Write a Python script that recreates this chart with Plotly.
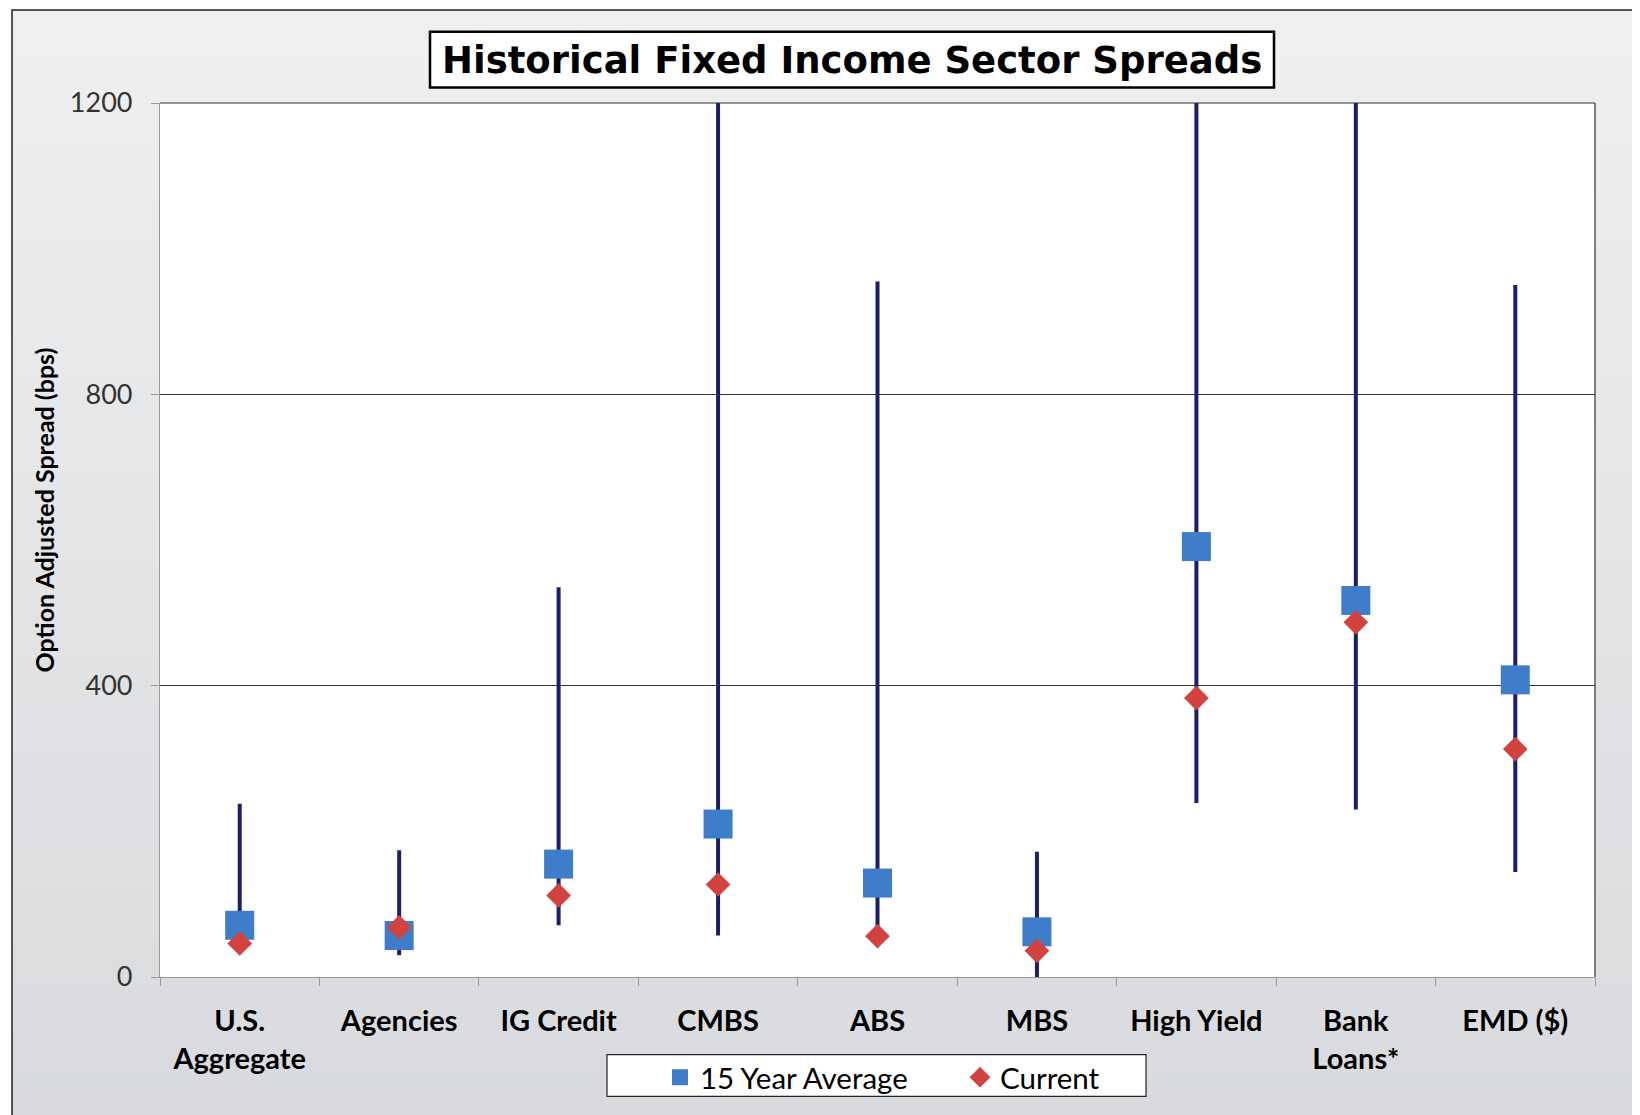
import plotly.graph_objects as go

# ---------------- data ----------------
sectors = ["U.S. Aggregate", "Agencies", "IG Credit", "CMBS", "ABS", "MBS",
           "High Yield", "Bank Loans*", "EMD ($)"]
sector_labels = ["U.S.<br>Aggregate", "Agencies", "IG Credit", "CMBS", "ABS", "MBS",
                 "High Yield", "Bank<br>Loans*", "EMD ($)"]
spread_max = [238, 174, 535, 1450, 955, 172, 1450, 1450, 950]
spread_min = [40, 30, 71, 57, 50, 0, 239, 230, 144]
avg_15yr = [71, 57, 155, 210, 129, 62, 591, 517, 408]
current = [46, 68, 112, 127, 56, 36, 383, 487, 313]
y_ticks = [0, 400, 800, 1200]

# ---------------- geometry (absolute page px; page body has 8px margin) ----------------
OFF = 8
W, H = 1632, 1107
P_LEFT, P_RIGHT, P_TOP, P_BOT = 160, 1595, 102.5, 981
L = P_LEFT - OFF
R = W - (P_RIGHT - OFF)
T = P_TOP - OFF
B = H - (P_BOT - OFF)
PW, PH = P_RIGHT - P_LEFT, P_BOT - P_TOP


def px_x(p):
    return (p - P_LEFT) / PW


def px_y(p):
    return (P_BOT - p) / PH


NAVY = "#1b1f6b"
BLUE = "#3f7dca"
RED = "#d2423f"

fig = go.Figure()

# range lines (min to max)
lx, ly = [], []
for s, lo, hi in zip(sectors, spread_min, spread_max):
    lx += [s, s, None]
    ly += [lo, hi, None]
fig.add_trace(go.Scatter(x=lx, y=ly, mode="lines", line=dict(color=NAVY, width=4),
                         showlegend=False, hoverinfo="skip"))

fig.add_trace(go.Scatter(x=sectors, y=avg_15yr, mode="markers", name="15 Year Average",
                         marker=dict(symbol="square", size=29, color=BLUE)))
fig.add_trace(go.Scatter(x=sectors, y=current, mode="markers", name="Current",
                         marker=dict(symbol="diamond", size=19, color=RED)))

shapes = []
# outer gradient background
top_px, bot_px, left_px, right_px = 9, 1130, 12, 1650
n = 24
c0 = (0xef, 0xef, 0xf0)
c1 = (0xd8, 0xda, 0xdd)
for i in range(n):
    f = i / (n - 1)
    col = "rgb(%d,%d,%d)" % tuple(round(a + (b - a) * f) for a, b in zip(c0, c1))
    y0 = top_px + (bot_px - top_px) * i / n
    y1 = top_px + (bot_px - top_px) * (i + 1) / n
    shapes.append(dict(type="rect", xref="paper", yref="paper", layer="below",
                       x0=px_x(left_px), x1=px_x(right_px), y0=px_y(y0), y1=px_y(y1 + 1),
                       fillcolor=col, line=dict(width=0)))
# outer border
shapes.append(dict(type="rect", xref="paper", yref="paper", layer="below",
                   x0=px_x(left_px), x1=px_x(right_px), y0=px_y(top_px), y1=px_y(bot_px),
                   line=dict(color="#222222", width=1.5), fillcolor="rgba(0,0,0,0)"))
# plot area white
shapes.append(dict(type="rect", xref="paper", yref="paper", layer="below",
                   x0=0, x1=1, y0=0, y1=1, fillcolor="white", line=dict(width=0)))
# top and right borders of plot
shapes.append(dict(type="line", xref="paper", yref="paper", x0=0, x1=1, y0=1, y1=1,
                   line=dict(color="#333333", width=1.2)))
shapes.append(dict(type="line", xref="paper", yref="paper", x0=1, x1=1, y0=0, y1=1,
                   line=dict(color="#333333", width=1.2)))
# title box
shapes.append(dict(type="rect", xref="paper", yref="paper",
                   x0=px_x(430), x1=px_x(1274), y0=px_y(31), y1=px_y(87),
                   fillcolor="white", line=dict(color="black", width=2.5)))
# legend box
shapes.append(dict(type="rect", xref="paper", yref="paper",
                   x0=px_x(607), x1=px_x(1146), y0=px_y(1059), y1=px_y(1101),
                   fillcolor="white", line=dict(color="#222222", width=1.2)))

annotations = [
    dict(text="<b>Historical Fixed Income Sector Spreads</b>", xref="paper", yref="paper",
         x=px_x(852), y=px_y(60), xanchor="center", yanchor="middle", showarrow=False,
         font=dict(family="DejaVu Sans", size=37, color="black")),
    dict(text="<b>Option Adjusted Spread (bps)</b>", xref="paper", yref="paper",
         x=px_x(44), y=px_y(512), xanchor="center", yanchor="middle", showarrow=False,
         textangle=-90, font=dict(family="Lato", size=25, color="black")),
]

fig.update_layout(
    width=W, height=H,
    margin=dict(l=L, r=R, t=T, b=B),
    paper_bgcolor="white",
    plot_bgcolor="rgba(0,0,0,0)",
    shapes=shapes,
    annotations=annotations,
    showlegend=True,
    legend=dict(orientation="h", x=px_x(660), y=px_y(1082), xanchor="left", yanchor="middle",
                bgcolor="rgba(0,0,0,0)", borderwidth=0, entrywidth=255,
                font=dict(family="Lato", size=29.5, color="black")),
    xaxis=dict(type="category", categoryorder="array", categoryarray=sectors,
               tickmode="array", tickvals=sectors, ticktext=["<b>%s</b>" % t for t in sector_labels],
               tickson="boundaries", ticks="outside", ticklen=8, tickcolor="#9a9a9a",
               showline=True, linecolor="#9a9a9a", linewidth=1.2, showgrid=False,
               ticklabelstandoff=18,
               tickfont=dict(family="Lato", size=29, color="black"),
               range=[-0.5, len(sectors) - 0.5]),
    yaxis=dict(range=[0, 1200], tickvals=y_ticks, ticks="outside", ticklen=8,
               tickcolor="#9a9a9a", showline=True, linecolor="#9a9a9a", linewidth=1.2,
               showgrid=True, gridcolor="#333333", gridwidth=1, zeroline=False,
               ticklabelstandoff=13,
               tickfont=dict(family="Lato", size=27, color="#333333")),
)

fig.write_html("out.html")
